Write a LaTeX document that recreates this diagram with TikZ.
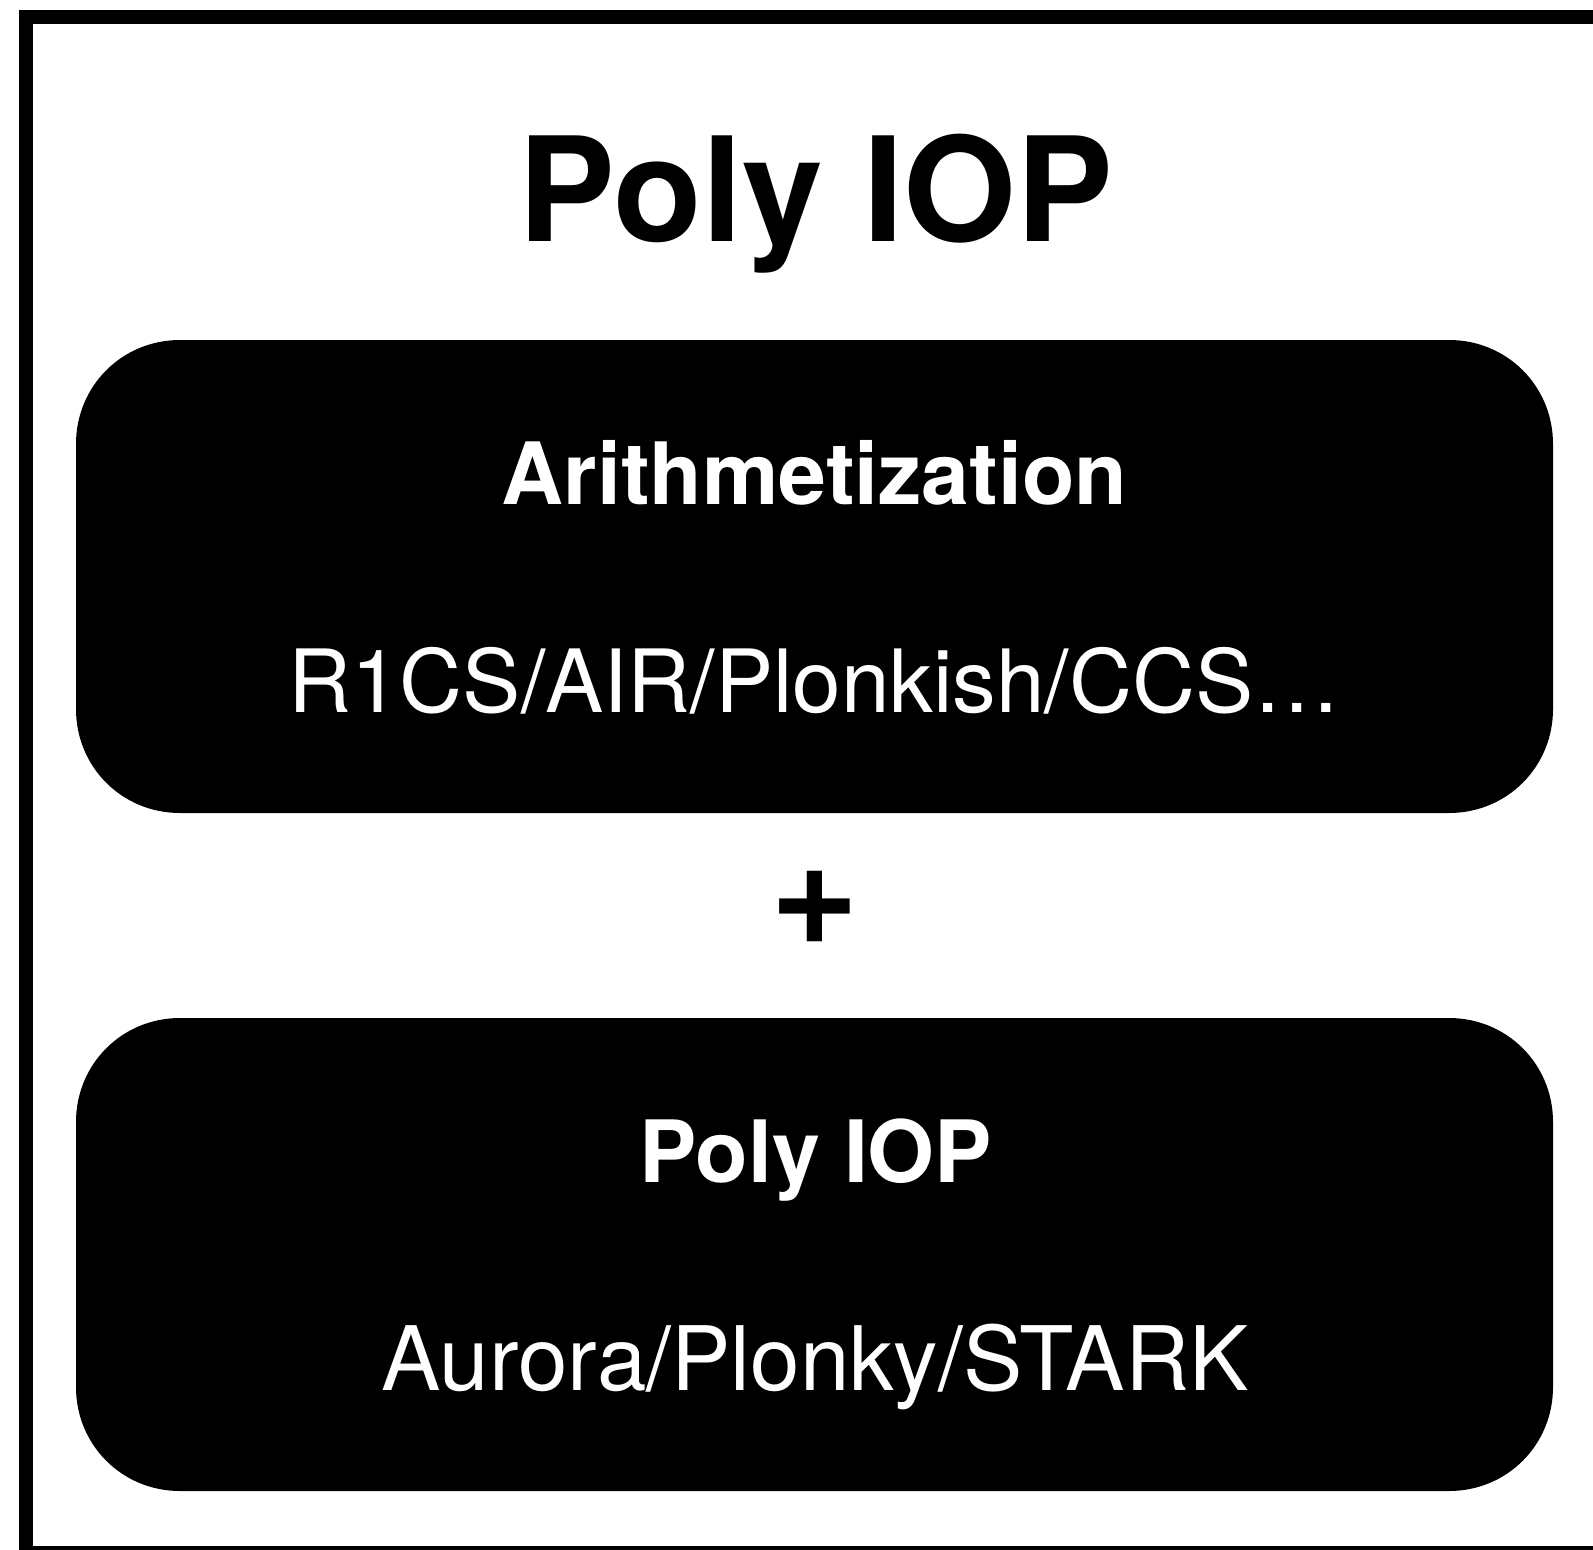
\documentclass[tikz,border=0pt]{standalone}
\usepackage{fontspec}
\setmainfont{TeX Gyre Heros}
\begin{document}
\begin{tikzpicture}[x=1pt,y=-1pt,
  frame/.style={draw=black,line width=13.5pt},
  panelbox/.style={draw=none,inner sep=0pt,
    minimum width=1477pt,minimum height=473pt,anchor=north west},
  bigtitle/.style={anchor=base,inner sep=0pt,text=black,
    font=\fontsize{145}{150}\selectfont\bfseries},
  plussign/.style={anchor=base,inner sep=0pt,text=black,
    font=\fontsize{152}{156}\selectfont\bfseries},
  paneltitle/.style={anchor=base,inner sep=0pt,text=white,
    font=\fontsize{86}{90}\selectfont\bfseries},
  paneltext/.style={anchor=base,inner sep=0pt,text=white,
    font=\fontsize{#1}{92}\selectfont},
  paneltext/.default=88]
\useasboundingbox (0,0) rectangle (1593,1550);
\clip (0,0) rectangle (1593,1550);

% filled panel with smooth corners:
% #1,#2 = top-left corner, #3,#4 = bottom-right corner
\def\cr{104}
\def\ck{46}% control offset of each corner curve
\newcommand\softpanel[4]{%
  \fill[black]
    ({#1+\cr},#2) -- ({#3-\cr},#2)
    .. controls ({#3-\ck},#2) and (#3,{#2+\ck}) .. (#3,{#2+\cr})
    -- (#3,{#4-\cr})
    .. controls (#3,{#4-\ck}) and ({#3-\ck},#4) .. ({#3-\cr},#4)
    -- ({#1+\cr},#4)
    .. controls ({#1+\ck},#4) and (#1,{#4-\ck}) .. (#1,{#4-\cr})
    -- (#1,{#2+\cr})
    .. controls (#1,{#2+\ck}) and ({#1+\ck},#2) .. ({#1+\cr},#2) -- cycle;}

% outer frame (runs past the right and bottom edges)
\draw[frame] (26,17) rectangle (1620,1553);

% heading
\node[bigtitle] (title) at (816,241) {Poly IOP};

% upper panel: arithmetization
\softpanel{76}{340}{1553}{813}
\node[panelbox] (arith) at (76,340) {};
\node[paneltitle] (arithhead) at (814.5,504) {Arithmetization};
\node[paneltext=87.3] (arithlist) at (814.5,712) {R1CS/AIR/Plonkish/CCS…};

% plus sign between the panels
\node[plussign] (plus) at (814.5,944) {+};

% lower panel: polynomial IOP
\softpanel{76}{1018}{1553}{1491}
\node[panelbox] (piop) at (76,1018) {};
\node[paneltitle] (piophead) at (816,1182) {Poly IOP};
\node[paneltext=89] (pioplist) at (815,1390) {Aurora/Plonky/STARK};
\end{tikzpicture}
\end{document}
